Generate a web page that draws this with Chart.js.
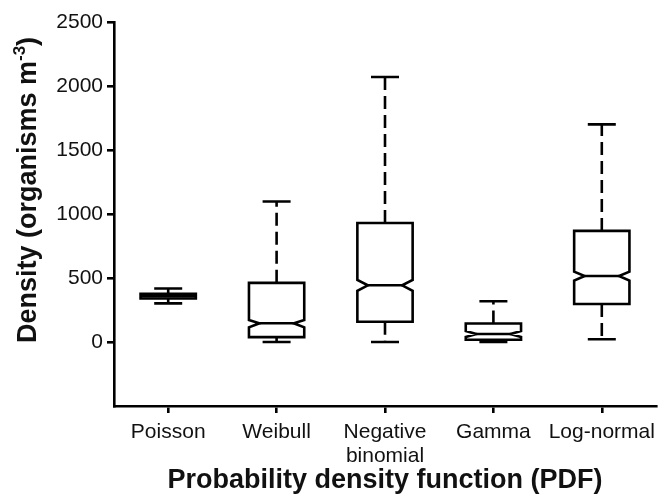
<!DOCTYPE html>
<html>
<head>
<meta charset="utf-8">
<script src="https://cdn.jsdelivr.net/npm/chart.js@4/dist/chart.umd.min.js"></script>
<style>
    html, body { margin: 0; padding: 0; background: #fff; }
    #boxChart { display: block; }
</style>
</head>
<body>
<canvas id="boxChart" width="670" height="497"></canvas>
<script>
// categories and box statistics
const categories = ['Poisson', 'Weibull', ['Negative', 'binomial'], 'Gamma', 'Log-normal'];
const whiskerLow = [302, 0, 0, 0, 22];
const quartile1 = [340, 38, 158, 18, 297];
const medians = [358, 146, 443, 62, 516];
const quartile3 = [376, 462, 930, 145, 868];
const whiskerHigh = [418, 1098, 2070, 318, 1700];
const notchLow = [358, 114, 400, 40, 480];
const notchHigh = [358, 172, 485, 85, 550];
const yTicks = [0, 500, 1000, 1500, 2000, 2500];

const fontFamily = "'Liberation Sans', Arial, sans-serif";

// draws the notched boxes and the dashed whiskers on top of the (invisible) floating bars
const boxPlotPlugin = {
    id: 'boxPlot',
    afterDatasetsDraw(chart) {
        const ctx = chart.ctx;
        const y = chart.scales.y;
        const meta = chart.getDatasetMeta(0);
        ctx.save();
        ctx.strokeStyle = '#000';
        ctx.lineWidth = 2.6;
        meta.data.forEach((bar, i) => {
            const cx = bar.x;
            const half = bar.width / 2;
            const x0 = cx - half;
            const x1 = cx + half;
            const d = bar.width * 0.19;
            const yQ1 = y.getPixelForValue(quartile1[i]);
            const yQ3 = y.getPixelForValue(quartile3[i]);
            const yMed = y.getPixelForValue(medians[i]);
            const yNLo = y.getPixelForValue(notchLow[i]);
            const yNHi = y.getPixelForValue(notchHigh[i]);
            const yLo = y.getPixelForValue(whiskerLow[i]);
            const yHi = y.getPixelForValue(whiskerHigh[i]);
            const notched = notchHigh[i] > notchLow[i];

            // whiskers
            ctx.setLineDash([13, 6]);
            ctx.beginPath();
            ctx.moveTo(cx, yQ3);
            ctx.lineTo(cx, yHi);
            ctx.moveTo(cx, yQ1);
            ctx.lineTo(cx, yLo);
            ctx.stroke();
            ctx.setLineDash([]);

            // caps
            ctx.beginPath();
            ctx.moveTo(cx - 14, yHi);
            ctx.lineTo(cx + 14, yHi);
            ctx.moveTo(cx - 14, yLo);
            ctx.lineTo(cx + 14, yLo);
            ctx.stroke();

            // box
            ctx.fillStyle = '#fff';
            ctx.beginPath();
            ctx.moveTo(x0, yQ3);
            ctx.lineTo(x1, yQ3);
            if (notched) {
                ctx.lineTo(x1, yNHi);
                ctx.lineTo(x1 - d, yMed);
                ctx.lineTo(x1, yNLo);
            }
            ctx.lineTo(x1, yQ1);
            ctx.lineTo(x0, yQ1);
            if (notched) {
                ctx.lineTo(x0, yNLo);
                ctx.lineTo(x0 + d, yMed);
                ctx.lineTo(x0, yNHi);
            }
            ctx.closePath();
            ctx.fill();
            ctx.stroke();

            // median
            ctx.beginPath();
            ctx.moveTo(notched ? x0 + d : x0, yMed);
            ctx.lineTo(notched ? x1 - d : x1, yMed);
            ctx.stroke();
        });
        ctx.restore();
    },
    afterDraw(chart) {
        // y axis title with superscript
        const ctx = chart.ctx;
        const main = 'bold 27px ' + fontFamily;
        const sup = 'bold 17px ' + fontFamily;
        ctx.save();
        ctx.font = main;
        const w1 = ctx.measureText('Density (organisms m').width;
        const w3 = ctx.measureText(')').width;
        ctx.font = sup;
        const w2 = ctx.measureText('-3').width;
        const total = w1 + w2 + w3;
        ctx.translate(29, 190);
        ctx.rotate(-Math.PI / 2);
        ctx.fillStyle = '#111';
        ctx.textBaseline = 'middle';
        ctx.textAlign = 'left';
        let x = -total / 2;
        ctx.font = main;
        ctx.fillText('Density (organisms m', x, 0);
        x += w1;
        ctx.font = sup;
        ctx.fillText('-3', x, -9);
        x += w2;
        ctx.font = main;
        ctx.fillText(')', x, 0);
        ctx.restore();
    }
};

const ctx = document.getElementById('boxChart').getContext('2d');
const chart = new Chart(ctx, {
    type: 'bar',
    data: {
        labels: categories,
        datasets: [{
            label: 'Density',
            data: quartile1.map((q, i) => [q, quartile3[i]]),
            backgroundColor: 'rgba(0,0,0,0)',
            borderWidth: 0,
            categoryPercentage: 1,
            barPercentage: 0.51
        }]
    },
    options: {
        responsive: false,
        animation: false,
        devicePixelRatio: 1,
        layout: { padding: { top: 22, right: 14, left: 0, bottom: 0 } },
        plugins: {
            legend: { display: false },
            tooltip: { enabled: false }
        },
        scales: {
            x: {
                offset: true,
                afterFit: (scale) => { scale.height = 91; },
                border: { color: '#000', width: 2.6 },
                grid: {
                    offset: false,
                    drawOnChartArea: false,
                    drawTicks: true,
                    tickLength: 7,
                    color: '#000',
                    lineWidth: 2.6
                },
                ticks: {
                    color: '#111',
                    padding: 7,
                    autoSkip: false,
                    maxRotation: 0,
                    font: { family: fontFamily, size: 21, lineHeight: 1.15 }
                },
                title: {
                    display: true,
                    text: 'Probability density function (PDF)',
                    color: '#111',
                    padding: { top: 0, bottom: 0 },
                    font: { family: fontFamily, size: 27, weight: 'bold' }
                }
            },
            y: {
                min: -500,
                max: 2500,
                afterFit: (scale) => { scale.width = 114; },
                afterBuildTicks: (scale) => {
                    scale.ticks = yTicks.map(v => ({ value: v }));
                },
                border: { color: '#000', width: 2.6 },
                grid: {
                    drawOnChartArea: false,
                    drawTicks: true,
                    tickLength: 7,
                    color: '#000',
                    lineWidth: 2.6
                },
                ticks: {
                    color: '#111',
                    padding: 4,
                    font: { family: fontFamily, size: 21 },
                    callback: (v) => String(v)
                }
            }
        }
    },
    plugins: [boxPlotPlugin]
});
</script>
</body>
</html>
